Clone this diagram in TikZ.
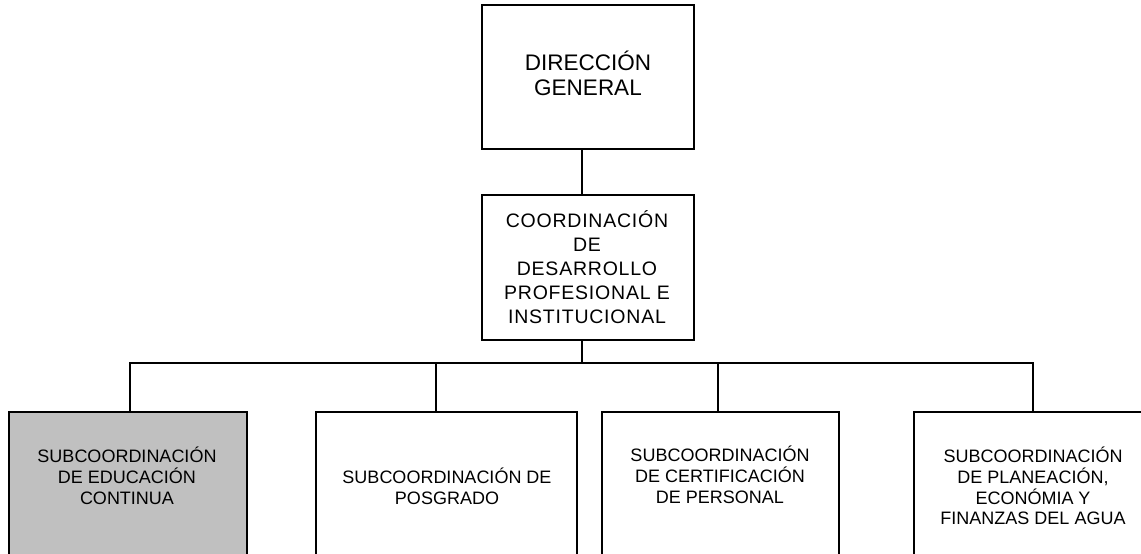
\documentclass[tikz,border=0pt]{standalone}
\usepackage{fontspec}
\setmainfont{Liberation Sans}
\begin{document}
\begin{tikzpicture}[x=1pt,y=-1pt,
  orgbox/.style={draw, line width=1.3pt, rectangle, inner sep=0pt, outer sep=0pt},
  link/.style={line width=1.3pt},
  lbl/.style={align=center, inner sep=0pt, text=black}]
\useasboundingbox (0,0) rectangle (1141,554);
\clip (0,0) rectangle (1141,554);
\fill[white] (0,0) rectangle (1141,554);
% boxes
\node[orgbox, minimum width=212pt, minimum height=144pt] (top) at (588,77) {};
\node[orgbox, minimum width=212pt, minimum height=145pt] (coord) at (588,267.5) {};
\node[orgbox, fill={rgb,255:red,192;green,192;blue,192}, minimum width=238pt, minimum height=170pt] (b1) at (128,497) {};
\node[orgbox, minimum width=261pt, minimum height=170pt] (b2) at (446.5,497) {};
\node[orgbox, minimum width=237pt, minimum height=170pt] (b3) at (720.5,497) {};
\node[orgbox, minimum width=238pt, minimum height=170pt] (b4) at (1033,497) {};
% texts
\node[lbl, font=\fontsize{22.5}{25}\selectfont] (t0) at (588,73) {DIRECCIÓN\\GENERAL};
\node[lbl, font=\fontsize{19.5}{24}\selectfont\addfontfeatures{LetterSpace=4}] (tc) at (587,267) {COORDINACIÓN\\DE\\DESARROLLO\\PROFESIONAL E\\INSTITUCIONAL};
\node[lbl, font=\fontsize{18}{21}\selectfont] (t1) at (127,476) {SUBCOORDINACIÓN\\DE EDUCACIÓN\\CONTINUA};
\node[lbl, font=\fontsize{18}{21}\selectfont] (t2) at (447,486) {SUBCOORDINACIÓN DE\\POSGRADO};
\node[lbl, font=\fontsize{18}{21}\selectfont] (t3) at (720,475) {SUBCOORDINACIÓN\\DE CERTIFICACIÓN\\DE PERSONAL};
\node[lbl, font=\fontsize{18}{20.7}\selectfont] (t4) at (1033,486) {SUBCOORDINACIÓN\\DE PLANEACIÓN,\\ECONÓMIA Y\\FINANZAS DEL AGUA};
% connector coordinates
\coordinate (j) at (582,363);
\coordinate (j1) at (130,363);
\coordinate (j2) at (436,363);
\coordinate (j3) at (718,363);
\coordinate (j4) at (1033,363);
% connectors
\draw[link] (top.south -| j) -- (coord.north -| j);
\draw[link] (coord.south -| j) -- (j);
\draw[link] (b1.north -| j1) -- (j1) -- (j4) -- (b4.north -| j4);
\draw[link] (j2) -- (b2.north -| j2);
\draw[link] (j3) -- (b3.north -| j3);
\end{tikzpicture}
\end{document}
